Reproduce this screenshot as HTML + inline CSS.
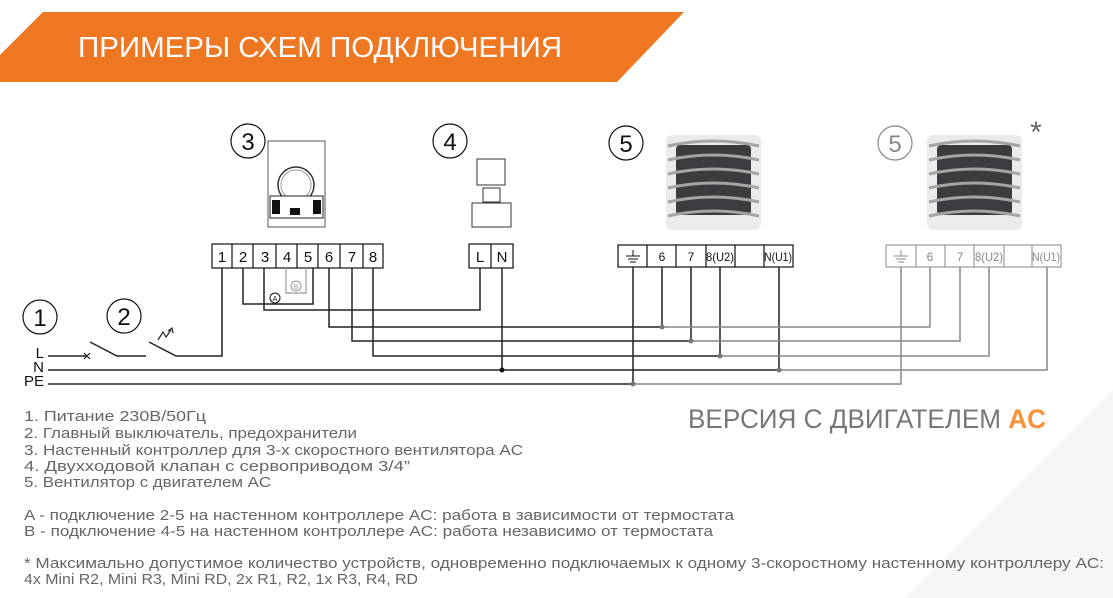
<!DOCTYPE html>
<html><head><meta charset="utf-8"><style>
html,body{margin:0;padding:0;background:#fff;}
svg{display:block;font-family:"Liberation Sans",sans-serif;}
</style></head><body>
<svg width="1113" height="598" viewBox="0 0 1113 598" xmlns="http://www.w3.org/2000/svg">
<polygon points="905,598 1113,390 1113,598" fill="#f7f6f4"/>
<polygon points="43,12 684,12 617,82 0,82 0,55" fill="#f07722"/>
<text x="78" y="57" font-size="29" fill="#fff" textLength="484" lengthAdjust="spacingAndGlyphs">ПРИМЕРЫ СХЕМ ПОДКЛЮЧЕНИЯ</text>

<g fill="none" stroke="#111" stroke-width="1.2">
<circle cx="248" cy="141" r="17"/><circle cx="450" cy="141" r="17"/><circle cx="626" cy="143" r="17"/>
<circle cx="40" cy="317" r="17"/><circle cx="124" cy="316" r="17"/>
</g>
<circle cx="895" cy="143" r="17" fill="none" stroke="#888" stroke-width="1.2"/>
<g font-size="24" text-anchor="middle" fill="#111">
<text x="248" y="150">3</text><text x="450" y="150">4</text><text x="626" y="152">5</text>
<text x="40" y="326">1</text><text x="124" y="325">2</text>
</g>
<text x="895" y="152" font-size="24" text-anchor="middle" fill="#888">5</text>
<text x="1036" y="142" font-size="30" text-anchor="middle" fill="#666">*</text>

<rect x="268" y="141" width="57" height="86" fill="#fff" stroke="#555"/>
<circle cx="296" cy="185" r="18" fill="none" stroke="#333" stroke-width="1.5"/>
<circle cx="296" cy="185" r="15" fill="none" stroke="#999"/>
<rect x="270" y="196" width="53" height="22" fill="#fff" stroke="#222"/>
<rect x="272" y="200" width="8" height="14" fill="#111"/><rect x="313" y="200" width="8" height="14" fill="#111"/>
<rect x="290" y="208" width="10" height="7" fill="#111"/>
<rect x="477" y="159" width="28" height="26" fill="#fff" stroke="#333"/>
<rect x="483" y="188" width="17" height="14" fill="#fff" stroke="#333"/>
<rect x="472" y="203" width="39" height="24" fill="#fff" stroke="#333"/>
<g id="fan">
<rect x="666" y="135" width="95" height="95" rx="6" fill="#ebebeb"/>
<rect x="676" y="145" width="75" height="70" rx="4" fill="#3a3c40"/>
<g stroke="#a5a5a5" stroke-width="3" fill="none">
<path d="M668 146 Q713 136 759 146"/><path d="M668 160 Q713 150 759 160"/><path d="M668 174 Q713 164 759 174"/><path d="M668 188 Q713 178 759 188"/><path d="M668 202 Q713 192 759 202"/><path d="M668 216 Q713 206 759 216"/>
</g>
</g>
<use href="#fan" x="261"/>

<g stroke="#111" stroke-width="1.2" fill="#fff">
<rect x="212" y="244" width="171" height="24"/>
<path d="M232 244V268M253 244V268M276 244V268M297 244V268M318 244V268M340 244V268M363 244V268"/>
<rect x="469" y="244" width="44" height="24"/><path d="M491 244V268"/>
<rect x="618" y="245" width="175" height="22"/>
<path d="M647 245V267M676 245V267M706 245V267M735 245V267M764 245V267"/>
</g>
<g stroke="#999" stroke-width="1.2" fill="#fff">
<rect x="886" y="245" width="175" height="22"/>
<path d="M916 245V267M945 245V267M974 245V267M1004 245V267M1032 245V267"/>
</g>
<g font-size="15" text-anchor="middle" fill="#111">
<text x="222" y="262">1</text><text x="243" y="262">2</text><text x="265" y="262">3</text><text x="287" y="262">4</text><text x="308" y="262">5</text><text x="329" y="262">6</text><text x="352" y="262">7</text><text x="373" y="262">8</text>
<text x="480" y="262">L</text><text x="502" y="262">N</text>
</g>
<g font-size="12" text-anchor="middle" fill="#111">
<text x="662" y="261">6</text><text x="691" y="261">7</text><text x="720" y="261" textLength="28" lengthAdjust="spacingAndGlyphs">8(U2)</text><text x="778" y="261" textLength="28" lengthAdjust="spacingAndGlyphs">N(U1)</text>
</g>
<g font-size="12" text-anchor="middle" fill="#888">
<text x="930" y="261">6</text><text x="960" y="261">7</text><text x="989" y="261" textLength="28" lengthAdjust="spacingAndGlyphs">8(U2)</text><text x="1046" y="261" textLength="28" lengthAdjust="spacingAndGlyphs">N(U1)</text>
</g>
<g stroke="#111" stroke-width="1"><path d="M633 250V256M626 256H640M628 259H638M630 262H636"/></g>
<g stroke="#888" stroke-width="1"><path d="M901 250V256M894 256H908M896 259H906M898 262H904"/></g>

<path d="M286 268V293H306V268" fill="none" stroke="#999" stroke-width="1.2"/>
<circle cx="296" cy="286" r="5" fill="none" stroke="#999"/><text x="296" y="289" font-size="7" text-anchor="middle" fill="#999">B</text>
<circle cx="275" cy="298" r="5" fill="none" stroke="#111"/><text x="275" y="301" font-size="7" text-anchor="middle" fill="#111">A</text>

<g fill="none" stroke="#222" stroke-width="1.5">
<path d="M243 268V304H313V268"/>
<path d="M264 268V310H480V268"/>
<path d="M329 268V327H662"/>
<path d="M352 268V341H691"/>
<path d="M373 268V356H720"/>
<path d="M48 356H87M90 342L117 356H146M149 342L176 356H222V268"/>
<path d="M48 370H779"/>
<path d="M48 384H633"/>
<path d="M502 268V370"/>
<path d="M633 267V384M662 267V327M691 267V341M720 267V356M779 267V370"/>
</g>
<path d="M84 353L90 359M90 353L84 359" stroke="#222" stroke-width="1.2"/>
<path d="M158 340L163 332L166 337L171 330M168 331L172 328L173 333" fill="none" stroke="#222" stroke-width="1.2"/>
<g fill="none" stroke="#888" stroke-width="1.5">
<path d="M662 327H930V267M691 341H960V267M720 356H989V267M779 370H1047V267M633 384H901V267"/>
</g>
<g fill="#777"><circle cx="662" cy="327" r="2.5"/><circle cx="691" cy="341" r="2.5"/><circle cx="720" cy="356" r="2.5"/><circle cx="779" cy="370" r="2.5"/><circle cx="633" cy="384" r="2.5"/></g>
<circle cx="502" cy="370" r="2.5" fill="#111"/>
<g font-size="15" fill="#111" text-anchor="end"><text x="44" y="358">L</text><text x="44" y="372">N</text><text x="44" y="386">PE</text></g>

<text x="688" y="428" font-size="27" fill="#777" textLength="358" lengthAdjust="spacingAndGlyphs">ВЕРСИЯ С ДВИГАТЕЛЕМ <tspan fill="#f7923a" font-weight="bold">AC</tspan></text>

<g font-size="15" fill="#666">
<text x="24" y="421" textLength="182" lengthAdjust="spacingAndGlyphs">1. Питание 230В/50Гц</text>
<text x="24" y="438" textLength="333" lengthAdjust="spacingAndGlyphs">2. Главный выключатель, предохранители</text>
<text x="24" y="455" textLength="499" lengthAdjust="spacingAndGlyphs">3. Настенный контроллер для 3-х скоростного вентилятора AC</text>
<text x="24" y="471" textLength="386" lengthAdjust="spacingAndGlyphs">4. Двухходовой клапан с сервоприводом 3/4”</text>
<text x="24" y="487" textLength="247" lengthAdjust="spacingAndGlyphs">5. Вентилятор с двигателем AC</text>
<text x="24" y="520" textLength="710" lengthAdjust="spacingAndGlyphs">A - подключение 2-5 на настенном контроллере AC: работа в зависимости от термостата</text>
<text x="24" y="536" textLength="689" lengthAdjust="spacingAndGlyphs">B - подключение 4-5 на настенном контроллере AC: работа независимо от термостата</text>
<text x="24" y="568" textLength="1080" lengthAdjust="spacingAndGlyphs">* Максимально допустимое количество устройств, одновременно подключаемых к одному 3-скоростному настенному контроллеру AC:</text>
<text x="24" y="584" textLength="394" lengthAdjust="spacingAndGlyphs">4x Mini R2, Mini R3, Mini RD, 2x R1, R2, 1x R3, R4, RD</text>
</g>
</svg>
</body></html>
